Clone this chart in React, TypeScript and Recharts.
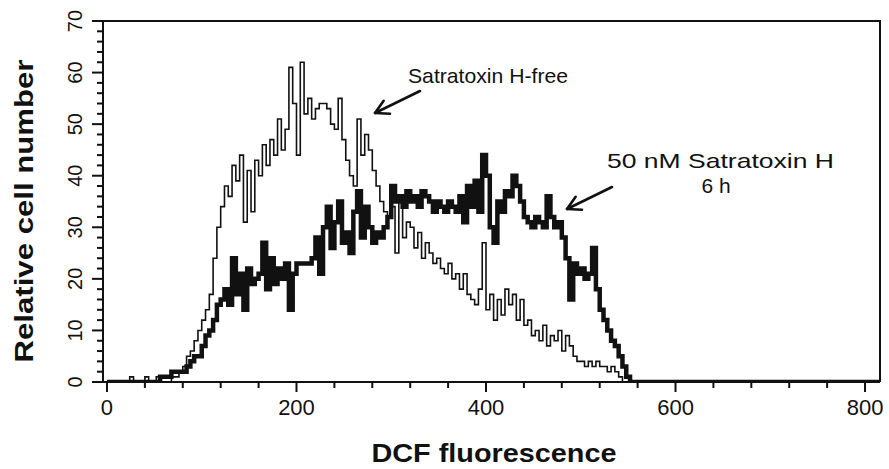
import { LineChart, Line, XAxis, YAxis } from 'recharts';

// DCF fluorescence histograms, one value per 4-channel bin starting at 0
const BIN_WIDTH = 4;

const controlCounts = [
  0, 0, 0, 0, 0, 0, 1, 0, 0, 0,
  1, 0, 0, 1, 0, 0, 0, 1, 1, 2,
  3, 5, 6, 8, 10, 12, 14, 17, 24, 30,
  34, 38, 36, 42, 39, 44, 31, 41, 33, 43,
  40, 46, 42, 47, 44, 51, 45, 49, 61, 54,
  44, 62, 52, 55, 51, 53, 54, 54, 53, 50,
  49, 55, 47, 43, 40, 38, 51, 44, 48, 45,
  41, 38, 35, 33, 32, 34, 25, 35, 28, 31,
  30, 26, 29, 24, 27, 25, 23, 24, 22, 21,
  23, 20, 21, 18, 21, 17, 16, 15, 18, 27,
  14, 17, 12, 16, 13, 18, 15, 17, 12, 16,
  11, 12, 9, 10, 8, 11, 7, 9, 8, 10,
  6, 9, 7, 5, 4, 4, 3, 4, 3, 4,
  3, 3, 2, 3, 2, 1, 0, 0, 0, 0,
];

const treatedCounts = [
  0, 0, 0, 0, 0, 0, 0, 0, 0, 0,
  0, 0, 0, 0, 1, 1, 1, 2, 2, 2,
  2, 3, 4, 5, 5, 7, 9, 10, 12, 15,
  16, 18, 15, 24, 17, 21, 14, 22, 19, 20,
  21, 27, 18, 24, 19, 22, 20, 23, 14, 21,
  23, 23, 23, 23, 24, 28, 21, 30, 34, 26,
  31, 35, 27, 29, 25, 33, 37, 28, 34, 30,
  27, 29, 28, 30, 32, 38, 35, 36, 34, 37,
  35, 36, 34, 37, 36, 35, 33, 35, 34, 33,
  35, 34, 33, 36, 31, 38, 34, 39, 33, 44,
  40, 30, 27, 35, 33, 37, 36, 40, 38, 35,
  32, 31, 30, 32, 31, 30, 36, 32, 30, 31,
  28, 24, 16, 23, 21, 22, 20, 21, 26, 18,
  14, 12, 10, 8, 7, 5, 3, 1, 0, 0,
];

const xMajorTicks = [0, 200, 400, 600, 800];
const yMajorTicks = [0, 10, 20, 30, 40, 50, 60, 70];
const xTicks = Array.from({ length: 21 }, (_, i) => i * 40);
const yTicks = Array.from({ length: 36 }, (_, i) => i * 2);

const X_DOMAIN: [number, number] = [-4.2, 815.8];

const data = controlCounts.map((c, i) => ({
  x: i * BIN_WIDTH,
  control: c,
  treated: treatedCounts[i],
}));
data.push({ x: 560, control: 0, treated: 0 }, { x: X_DOMAIN[1], control: 0, treated: 0 });

const INK = '#111';
const FONT = '"Liberation Sans", Arial, Helvetica, sans-serif';

const renderXTick = (props: any) => {
  const { x, y, payload } = props;
  const major = xMajorTicks.includes(payload.value);
  return (
    <g key={`xt-${payload.value}`}>
      <rect x={x - 1} y={y} width={2} height={major ? 10 : 6} fill={INK} />
      {major && (
        <text x={x} y={y + 33} textAnchor="middle" fontSize={22} fontFamily={FONT} fill={INK}>
          {payload.value}
        </text>
      )}
    </g>
  );
};

const renderYTick = (props: any) => {
  const { x, y, payload } = props;
  const major = yMajorTicks.includes(payload.value);
  const len = major ? 11 : 6;
  return (
    <g key={`yt-${payload.value}`}>
      <rect x={x - len} y={y - 1} width={len} height={2} fill={INK} />
      {major && (
        <g transform={`translate(${x - 28},${y}) rotate(-90)`}>
          <text x={0} y={7} textAnchor="middle" fontSize={20} fontFamily={FONT} fill={INK}>
            {payload.value}
          </text>
        </g>
      )}
    </g>
  );
};

function Arrow({ from, to }: { from: [number, number]; to: [number, number] }) {
  const dx = to[0] - from[0];
  const dy = to[1] - from[1];
  const len = Math.hypot(dx, dy);
  const ux = dx / len;
  const uy = dy / len;
  const wing = (ang: number) => {
    const c = Math.cos(ang);
    const s = Math.sin(ang);
    const bx = -ux * c + uy * s;
    const by = -uy * c - ux * s;
    return [to[0] + bx * 15, to[1] + by * 15];
  };
  const w1 = wing(0.5);
  const w2 = wing(-0.5);
  return (
    <g stroke={INK} strokeWidth={2.6} fill="none" strokeLinecap="round" strokeLinejoin="round">
      <line x1={from[0]} y1={from[1]} x2={to[0]} y2={to[1]} />
      <polyline points={`${w1[0]},${w1[1]} ${to[0]},${to[1]} ${w2[0]},${w2[1]}`} />
    </g>
  );
}

export default function App() {
  return (
    <div style={{ position: 'absolute', left: 0, top: 0, width: 889, height: 469, background: '#fff' }}>
      <LineChart
        width={889}
        height={469}
        data={data}
        margin={{ top: 21, right: 9, bottom: 0, left: 0 }}
      >
        <XAxis
          dataKey="x"
          type="number"
          domain={X_DOMAIN}
          allowDataOverflow
          ticks={xTicks}
          interval={0}
          tick={renderXTick}
          tickLine={false}
          tickSize={0}
          tickMargin={0}
          height={87}
          axisLine={{ stroke: INK, strokeWidth: 2 }}
        />
        <YAxis
          type="number"
          domain={[0, 70]}
          allowDataOverflow
          ticks={yTicks}
          interval={0}
          tick={renderYTick}
          tickLine={false}
          tickSize={0}
          tickMargin={0}
          width={103}
          axisLine={{ stroke: INK, strokeWidth: 2 }}
        />
        <Line
          type="stepAfter"
          dataKey="control"
          stroke={INK}
          strokeWidth={1.6}
          dot={false}
          activeDot={false}
          isAnimationActive={false}
        />
        <Line
          type="stepAfter"
          dataKey="treated"
          stroke={INK}
          strokeWidth={4.5}
          dot={false}
          activeDot={false}
          isAnimationActive={false}
        />
      </LineChart>
      <svg
        width={889}
        height={469}
        style={{ position: 'absolute', left: 0, top: 0, pointerEvents: 'none' }}
        fontFamily={FONT}
      >
        <polyline points="103,21 880,21 880,382" fill="none" stroke={INK} strokeWidth={2} />
        <text
          x={24}
          y={211}
          transform="rotate(-90, 24, 211)"
          textAnchor="middle"
          dominantBaseline="central"
          fontSize={25}
          fontWeight="bold"
          fill={INK}
          textLength={303}
          lengthAdjust="spacingAndGlyphs"
        >
          Relative cell number
        </text>
        <text
          x={494}
          y={462}
          textAnchor="middle"
          fontSize={25}
          fontWeight="bold"
          fill={INK}
          textLength={245}
          lengthAdjust="spacingAndGlyphs"
        >
          DCF fluorescence
        </text>
        <text x={408} y={83} fontSize={21} fill={INK} textLength={160} lengthAdjust="spacingAndGlyphs">
          Satratoxin H-free
        </text>
        <text x={607} y={168} fontSize={21} fill={INK} textLength={227} lengthAdjust="spacingAndGlyphs">
          50 nM Satratoxin H
        </text>
        <text x={716} y={193} fontSize={21} fill={INK} textAnchor="middle">
          6 h
        </text>
        <Arrow from={[420, 91]} to={[375, 113]} />
        <Arrow from={[612, 187]} to={[567, 209]} />
      </svg>
    </div>
  );
}
